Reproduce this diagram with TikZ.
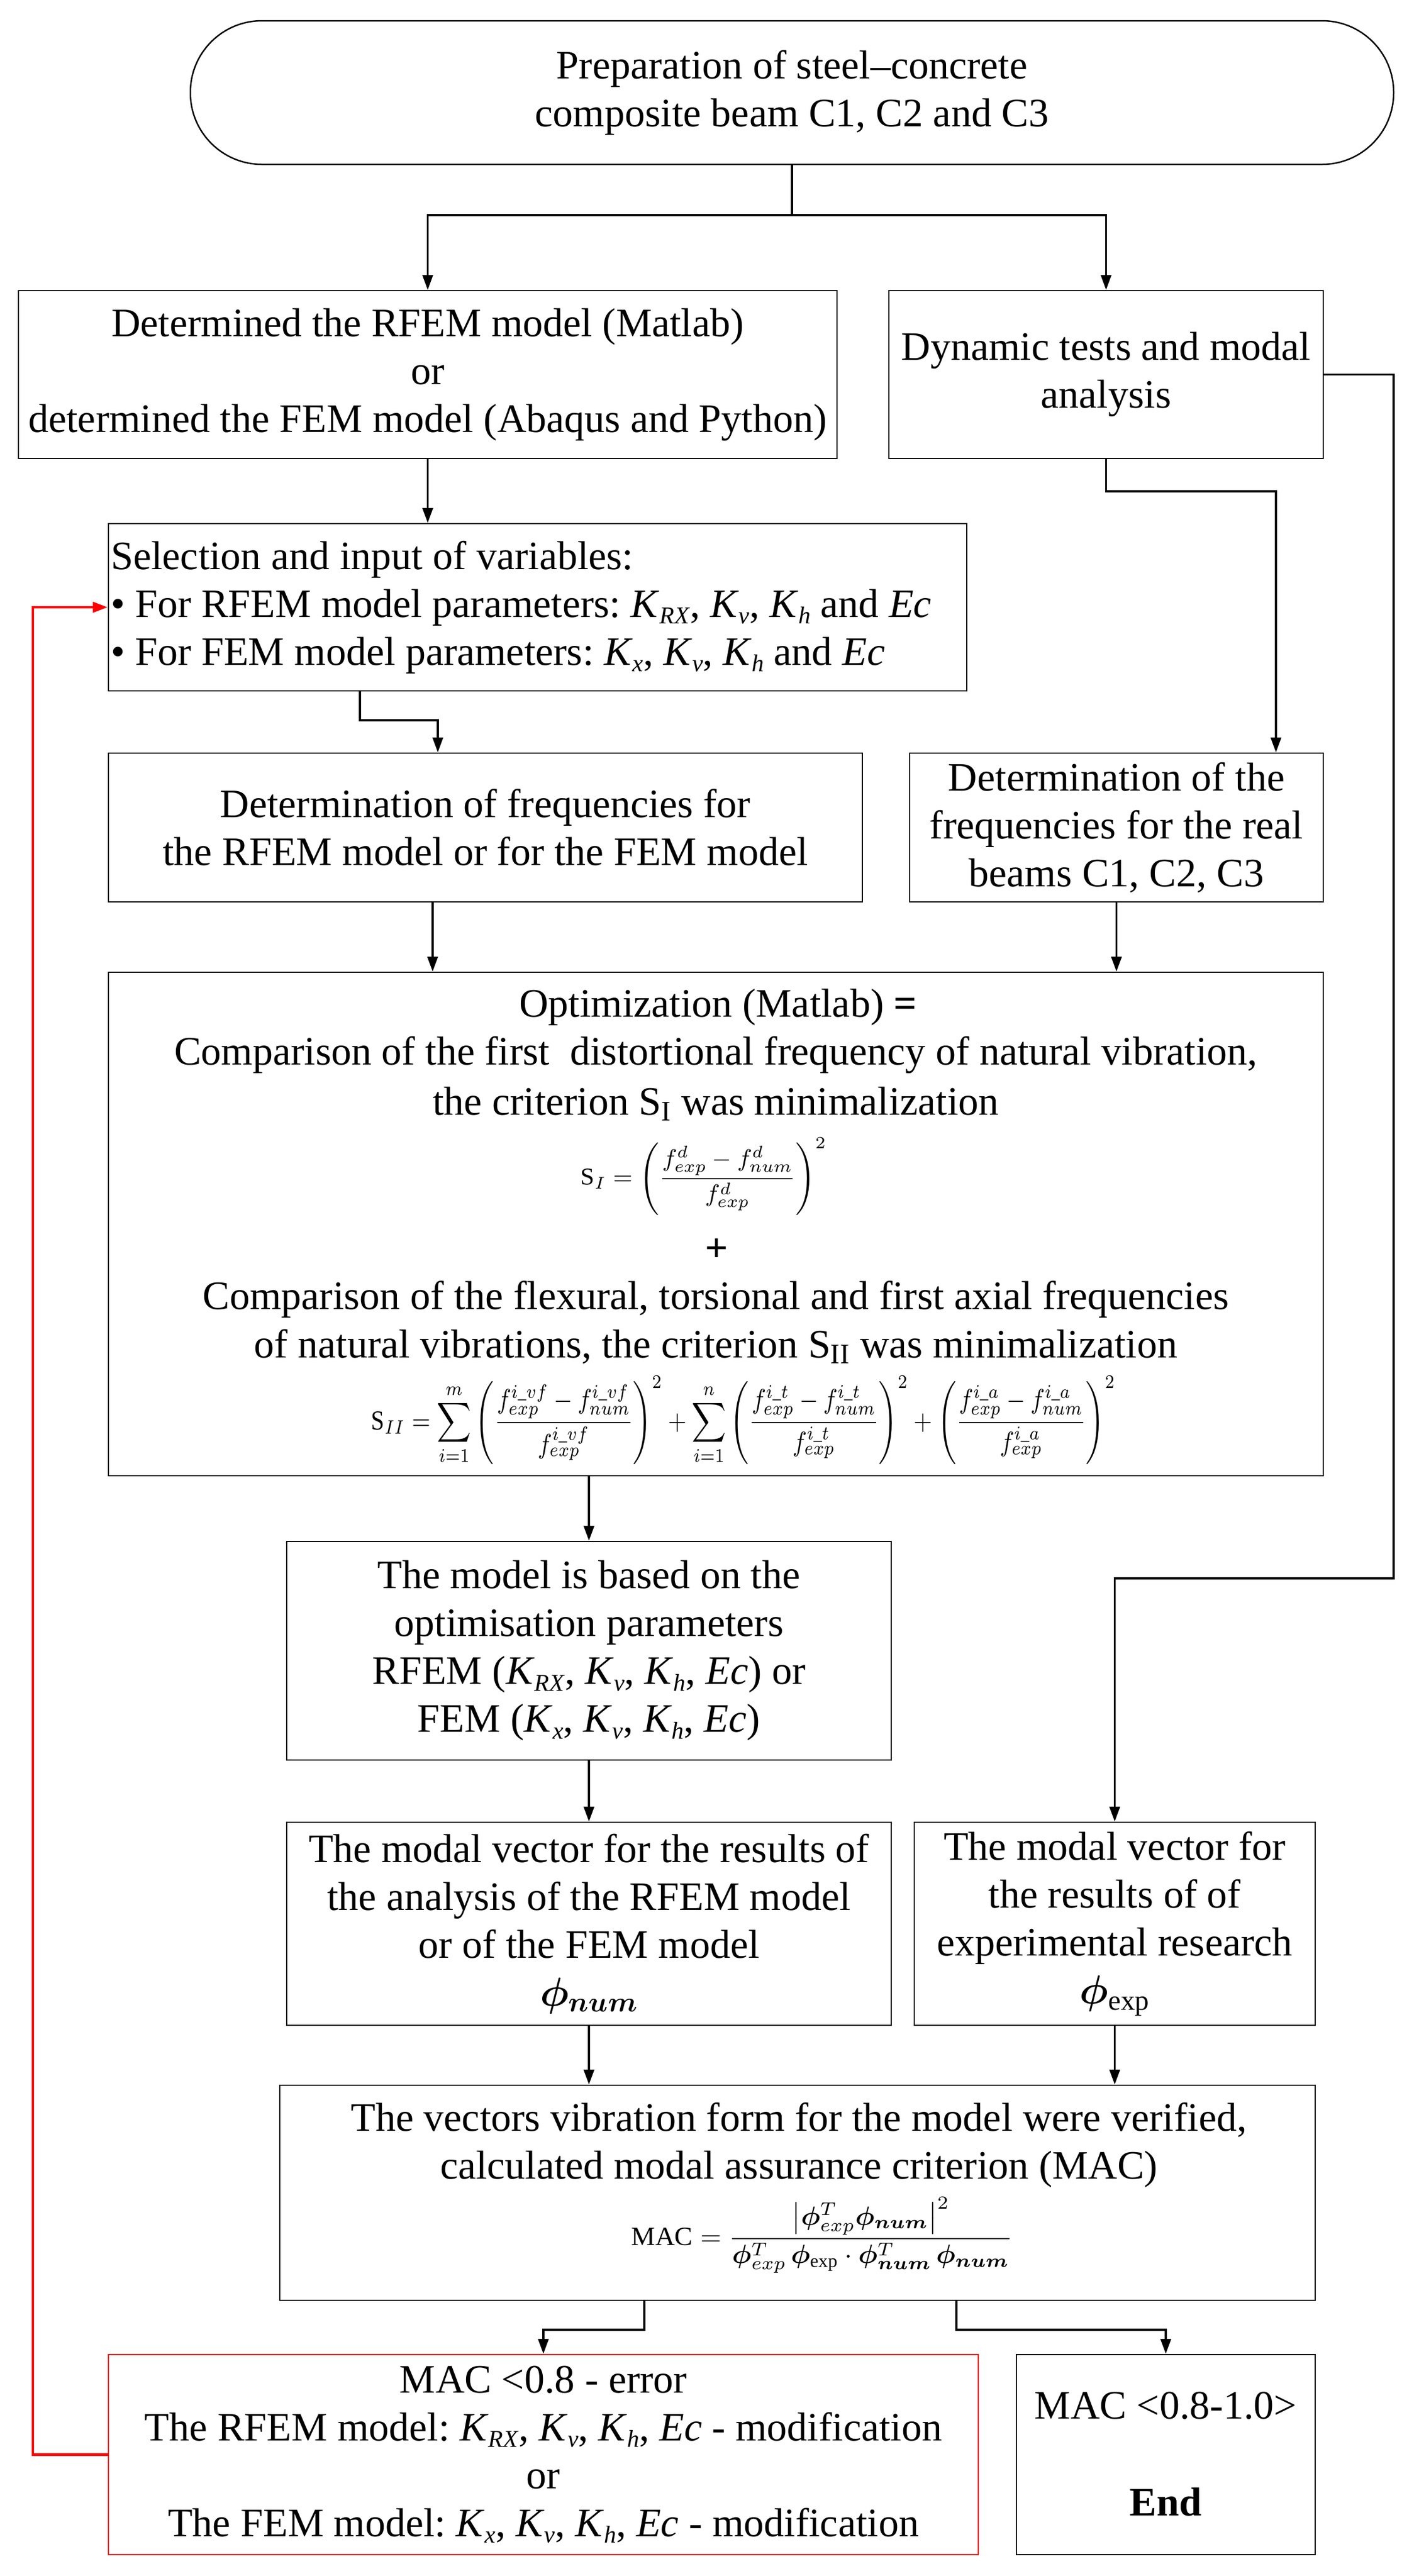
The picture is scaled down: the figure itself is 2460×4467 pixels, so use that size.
\RequirePackage{fix-cm}
\documentclass[tikz,border=0pt]{standalone}
\usepackage{fontspec}
\setmainfont{Liberation Serif}
\usepackage{amsmath,bm}
\usepackage{graphicx}
\usetikzlibrary{arrows.meta}
\newcommand{\Ksub}[1]{\textit{K}\raisebox{-0.16em}{\fontsize{21pt}{21pt}\selectfont\textit{#1}}}
\newcommand{\Ecc}{\textit{Ec}}
\definecolor{myred}{RGB}{255,0,0}
\tikzset{
  box/.style={draw, line width=1.25pt, rectangle, inner xsep=2pt, inner ysep=2pt, align=center,
    font=\fontsize{35pt}{41.5pt}\selectfont\frenchspacing},
  txt/.style={inner sep=0pt, align=center, font=\fontsize{35pt}{41.5pt}\selectfont\frenchspacing},
  plainln/.style={line width=1.8pt},
  conn/.style={line width=1.8pt, -{Triangle[length=13pt,width=9pt]}},
  redconn/.style={line width=2.4pt, draw=myred, -{Triangle[length=13pt,width=9pt]}},
}
\begin{document}
\begin{tikzpicture}[x=0.5pt,y=-0.5pt]
\useasboundingbox (0,0) rectangle (2460,4467);

% boxes
\node[box, rounded corners=62pt, minimum width=1043pt, minimum height=124.5pt] (T) at (1373,160.5)
  {Preparation of steel--concrete\\composite beam C1, C2 and C3};
\node[box, minimum width=709.5pt, minimum height=145.5pt] (A) at (741.5,649.5)
  {Determined the RFEM model (Matlab)\\or\\determined the FEM model (Abaqus and Python)};
\node[box, minimum width=376.5pt, minimum height=145.5pt] (B) at (1917.5,649.5)
  {Dynamic tests and modal\\analysis};
\node[box, minimum width=744pt, minimum height=145pt] (C) at (932,1053) {};
\node[txt, align=left, anchor=west] (ct) at (192,1053)
  {Selection and input of variables:\\
   • For RFEM model parameters: \Ksub{RX}, \Ksub{v}, \Ksub{h} and \Ecc\\
   • For FEM model parameters: \Ksub{x}, \Ksub{v}, \Ksub{h} and \Ecc};
\node[box, minimum width=653.5pt, minimum height=129pt] (D) at (841.5,1435)
  {Determination of frequencies for\\the RFEM model or for the FEM model};
\node[box, minimum width=358.5pt, minimum height=129pt] (E) at (1935.5,1435)
  {Determination of the\\frequencies for the real\\beams C1, C2, C3};
\node[box, minimum width=1053pt, minimum height=436.5pt] (F) at (1241,2122.5) {};
\node[box, minimum width=524pt, minimum height=189.5pt] (G) at (1021,2862.5)
  {The model is based on the\\optimisation parameters\\RFEM (\Ksub{RX}, \Ksub{v}, \Ksub{h}, \Ecc) or\\FEM (\Ksub{x}, \Ksub{v}, \Ksub{h}, \Ecc)};
\node[box, minimum width=524pt, minimum height=176pt] (H) at (1021,3336)
  {The modal vector for the results of\\the analysis of the RFEM model\\or of the FEM model\\$\bm{\phi}_{\bm{num}}$};
\node[box, minimum width=347.5pt, minimum height=176pt] (I) at (1932.5,3336)
  {The modal vector for\\the results of of\\experimental research\\$\bm{\phi}_{\mathrm{exp}}$};
\node[box, minimum width=897.5pt, minimum height=186.5pt] (J) at (1382.5,3802.5) {};
\node[box, draw=myred, minimum width=754pt, minimum height=173.5pt] (K) at (942,4256.5)
  {MAC {<}0.8 - error\\The RFEM model: \Ksub{RX}, \Ksub{v}, \Ksub{h}, \Ecc{} - modification\\or\\The FEM model: \Ksub{x}, \Ksub{v}, \Ksub{h}, \Ecc{} - modification};
\node[box, minimum width=259pt, minimum height=173.5pt] (L) at (2021,4256.5) {};

% texts in the optimization box
\node[txt] (f1) at (1245,1747) {Optimization (Matlab) \textbf{=}};
\node[txt] (f2) at (1241,1829) {Comparison of the first\ \ distortional frequency of natural vibration,};
\node[txt] (f3) at (1241,1914) {the criterion S\textsubscript{I} was minimalization};
\node[inner sep=0pt] (f4) at (1220,2040) {\resizebox*{213pt}{67pt}{$\displaystyle \mathrm{S}_{I}=\left(\frac{f^{d}_{exp}-f^{d}_{num}}{f^{d}_{exp}}\right)^{2}$}};
\node[txt] (f5) at (1242,2168) {\textbf{+}};
\node[txt] (f6) at (1241,2253) {Comparison of the flexural, torsional and first axial frequencies};
\node[txt] (f7) at (1241,2335) {of natural vibrations, the criterion S\textsubscript{II} was minimalization};
\node[inner sep=0pt] (f8) at (1289,2463) {\resizebox*{645pt}{77.5pt}{$\displaystyle \mathrm{S}_{II}=\sum_{i=1}^{m}\left(\frac{f^{i\_vf}_{exp}-f^{i\_vf}_{num}}{f^{i\_vf}_{exp}}\right)^{2}+\sum_{i=1}^{n}\left(\frac{f^{i\_t}_{exp}-f^{i\_t}_{num}}{f^{i\_t}_{exp}}\right)^{2}+\left(\frac{f^{i\_a}_{exp}-f^{i\_a}_{num}}{f^{i\_a}_{exp}}\right)^{2}$}};

% texts in the MAC box
\node[txt] (j1t) at (1385,3676) {The vectors vibration form for the model were verified,};
\node[txt] (j2t) at (1385,3762) {calculated modal assurance criterion (MAC)};
\node[inner sep=0pt] (j3t) at (1425,3876) {\resizebox*{330.5pt}{66pt}{$\displaystyle \mathrm{MAC}=\frac{\left|\bm{\phi}^{T}_{exp}\bm{\phi}_{\bm{num}}\right|^{2}}{\bm{\phi}^{T}_{exp}\,\bm{\phi}_{\mathrm{exp}}\cdot\bm{\phi}^{T}_{\bm{num}}\,\bm{\phi}_{\bm{num}}}$}};

% texts in the end box
\node[txt] (l1t) at (2021,4172) {MAC {<}0.8-1.0{>}};
\node[txt] (l2t) at (2021,4339) {\textbf{End}};

% helper coordinates
\coordinate (j1) at (1373,373);
\coordinate (j2) at (2212,852);
\coordinate (r2) at (2416,2737);
\coordinate (c1) at (624,1249);
\coordinate (c2) at (759,1249);
\coordinate (xd) at (750,1600);
\coordinate (j3) at (1117,4040);
\coordinate (j4) at (1658,4040);
\coordinate (rr) at (57,1053);

% connectors
\draw[plainln] (T.south) -- (j1);
\draw[conn] (j1) -| (A.north);
\draw[conn] (j1) -| (B.north);
\draw[conn] (B.east) -| (r2) -| (I.north);
\draw[conn] (B.south) |- (j2) -- (E.north -| j2);
\draw[conn] (A.south) -- (A.south |- C.north);
\draw[conn] (C.south -| c1) -- (c1) -- (c2) -- (c2 |- D.north);
\draw[conn] (D.south -| xd) -- (F.north -| xd);
\draw[conn] (E.south) -- (E.south |- F.north);
\draw[conn] (F.south -| G.north) -- (G.north);
\draw[conn] (G.south) -- (H.north);
\draw[conn] (H.south) -- (H.south |- J.north);
\draw[conn] (I.south) -- (I.south |- J.north);
\draw[conn] (J.south -| j3) -- (j3) -| (K.north);
\draw[conn] (J.south -| j4) -- (j4) -| (L.north);
\draw[redconn] (K.west) -| (rr) -- (C.west);
\end{tikzpicture}
\end{document}
